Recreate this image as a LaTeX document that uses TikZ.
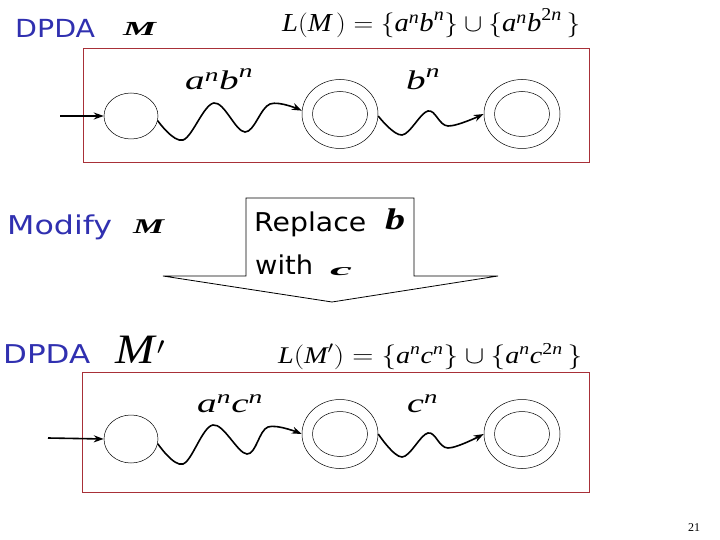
\documentclass[tikz,border=0pt]{standalone}
\usepackage{amsmath}
\usepackage{graphicx}
\usepackage{fontspec}
\setmainfont{Liberation Serif}
\newfontfamily\comic{DejaVu Sans}
\usetikzlibrary{arrows.meta,shapes.geometric}
\definecolor{dpblue}{RGB}{48,48,176}
\definecolor{boxred}{RGB}{168,48,56}
\newcommand{\vi}[1]{\textit{#1}}
\newcommand{\fitw}[2]{\resizebox{#1}{\height}{#2}}
\begin{document}
\begin{tikzpicture}[x=1bp,y=-1bp,
  frame/.style={draw=boxred, line width=0.8bp},
  state/.style={draw, ellipse, line width=0.5bp, minimum width=54bp, minimum height=46bp, inner sep=0pt},
  acc/.style={draw, ellipse, line width=0.5bp, minimum width=76bp, minimum height=69bp, inner sep=0pt},
  accin/.style={draw, ellipse, line width=0.5bp, minimum width=55bp, minimum height=45bp, inner sep=0pt},
  wave/.style={line width=1.6bp, -{Stealth[length=10bp,width=7bp]}},
  init/.style={line width=1.6bp, -{Stealth[length=10bp,width=7bp]}},
  lbl/.style={inner sep=0pt, anchor=base west},
  dpda/.style={lbl, text=dpblue, font=\comic\fontsize{25}{30}\selectfont},
  sans/.style={lbl, font=\comic\fontsize{26}{30}\selectfont},
  mathl/.style={lbl, font=\fontsize{27}{30}\selectfont}]
\useasboundingbox (0,0) rectangle (720,540);

% ---------- top automaton ----------
\node[dpda] (d1) at (15,38) {\fitw{80bp}{DPDA}};
\node[lbl, font=\fontsize{20}{24}\selectfont] (m1) at (123,36) {\fitw{34bp}{\textbf{\textit{M}}}};
\node[lbl, font=\fontsize{26}{30}\selectfont] (L1) at (282,32) {\fitw{298bp}{$\vi{L}(\vi{M}\,)=\{\vi{a}^{\vi{n}}\vi{b}^{\vi{n}}\}\cup\{\vi{a}^{\vi{n}}\vi{b}^{\textrm{2}\vi{n}}\,\}$}};
\draw[frame] (83,48) rectangle (589,162);

\node[state] (s1) at (131,116) {};
\node[acc] (f1) at (340,114) {};
\node[accin] (f1i) at (340,114) {};
\node[acc] (f2) at (522,114) {};
\node[accin] (f2i) at (522,114) {};

\coordinate (i1) at (60,116);
\draw[init] (i1) -- (s1.west);
\draw[wave] plot[smooth, tension=0.6] coordinates {(s1.-10) (183,140) (214,103) (245,132) (270,104) (f1.175)};
\draw[wave] plot[smooth, tension=0.6] coordinates {(f1.-3) (402,135) (428,111) (448,126) (f2.west)};
\node[mathl] (t1) at (185,90) {\fitw{68bp}{$\vi{a}^{\vi{n}}\vi{b}^{\vi{n}}$}};
\node[mathl] (t2) at (406,90) {\fitw{34bp}{$\vi{b}^{\vi{n}}$}};

% ---------- modify ----------
\node[dpda, font=\comic\fontsize{26}{30}\selectfont] (mod) at (7,235) {\fitw{105bp}{Modify}};
\node[lbl, font=\fontsize{21}{24}\selectfont] (m2) at (133,234) {\fitw{32bp}{\textbf{\textit{M}}}};
\draw[line width=0.8bp] (246,198) -- (414,198) -- (414,276) -- (498,276) -- (332,302) -- (163,276) -- (246,276) -- cycle;
\node[sans] (rep) at (254,232) {\fitw{112bp}{Replace}};
\node[lbl, font=\fontsize{30}{34}\selectfont] (bb) at (385,230) {\fitw{20bp}{\textbf{\textit{b}}}};
\node[sans] (with) at (255,275) {\fitw{58bp}{with}};
\node[lbl, font=\fontsize{17}{20}\selectfont] (cc) at (330,275) {\fitw{22bp}{\textbf{\textit{c}}}};

% ---------- bottom automaton ----------
\node[dpda, font=\comic\fontsize{26}{30}\selectfont] (d2) at (3,363) {\fitw{87bp}{DPDA}};
\node[lbl, font=\fontsize{42}{46}\selectfont] (m3) at (115,363) {\fitw{50bp}{$\vi{M}\kern2bp'$}};
\node[lbl, font=\fontsize{24}{28}\selectfont] (L2) at (278,363) {\fitw{304bp}{$\vi{L}(\vi{M}')=\{\vi{a}^{\vi{n}}\vi{c}^{\vi{n}}\}\cup\{\vi{a}^{\vi{n}}\vi{c}^{\textrm{2}\vi{n}}\,\}$}};
\draw[frame] (82,372) rectangle (589,492);

\node[state, minimum height=48bp] (s3) at (131,439) {};
\node[acc] (f3) at (340,434) {};
\node[accin] (f3i) at (340,434) {};
\node[acc] (f4) at (522,434) {};
\node[accin] (f4i) at (522,434) {};

\coordinate (i2) at (48,438);
\draw[init] (i2) -- (s3.west);
\draw[wave] plot[smooth, tension=0.6] coordinates {(s3.-10) (183,464) (213,425) (247,454) (268,427) (f3.west)};
\draw[wave] plot[smooth, tension=0.6] coordinates {(f3.east) (402,457) (428,433) (448,448) (f4.west)};
\node[mathl] (t3) at (197,412) {\fitw{66bp}{$\vi{a}^{\vi{n}}\vi{c}^{\vi{n}}$}};
\node[mathl] (t4) at (407,412) {\fitw{31bp}{$\vi{c}^{\vi{n}}$}};

\node[font=\fontsize{12}{14}\selectfont] (pg) at (694,528) {21};
\end{tikzpicture}
\end{document}
